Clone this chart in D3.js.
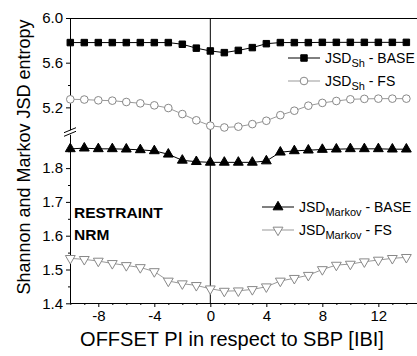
<!DOCTYPE html>
<html>
<head>
<meta charset="utf-8">
<script src="https://cdn.jsdelivr.net/npm/d3@7"></script>
<style>
body { margin: 0; background: #fff; }
text { font-family: "Liberation Sans", Arial, sans-serif; }
</style>
</head>
<body>
<div id="chart"></div>
<script>
// data
var offsets = [-10,-9,-8,-7,-6,-5,-4,-3,-2,-1,0,1,2,3,4,5,6,7,8,9,10,11,12,13,14];
var shBase = [5.78,5.78,5.78,5.78,5.78,5.78,5.78,5.78,5.765,5.73,5.705,5.69,5.71,5.735,5.77,5.78,5.78,5.78,5.782,5.782,5.782,5.782,5.782,5.782,5.782];
var shFS = [5.272,5.27,5.263,5.26,5.248,5.236,5.218,5.194,5.14,5.084,5.036,5.02,5.027,5.05,5.08,5.13,5.17,5.215,5.24,5.257,5.272,5.276,5.278,5.278,5.278];
var mkBase = [1.857,1.859,1.857,1.857,1.856,1.854,1.851,1.841,1.823,1.819,1.817,1.817,1.817,1.817,1.821,1.847,1.851,1.853,1.855,1.856,1.857,1.857,1.857,1.856,1.856];
var mkFS = [1.533,1.530,1.525,1.518,1.512,1.506,1.494,1.466,1.458,1.453,1.443,1.436,1.437,1.441,1.449,1.466,1.474,1.483,1.500,1.513,1.516,1.523,1.528,1.533,1.536];

var xTicks = [-8,-4,0,4,8,12];
var topTicks = [5.2,5.6,6.0];
var topMinor = [5.4,5.8];
var botTicks = [1.4,1.5,1.6,1.7,1.8];
var botMinor = [1.45,1.55,1.65,1.75,1.85];

var WIDTH = 417, HEIGHT = 356;
var L = 70, R = 417, T = 18, B = 303;

var xScale = d3.scaleLinear().domain([-10, 14.76]).range([70.3, 417]);
var yTop = d3.scaleLinear().domain([5.0, 6.0]).range([129.7, 18]);
var yBot = d3.scaleLinear().domain([1.4, 1.9]).range([303.3, 134.3]);

var svg = d3.select("#chart").append("svg")
	.attr("width", WIDTH)
	.attr("height", HEIGHT);

// frame lines
svg.append("line").attr("x1", L).attr("x2", R).attr("y1", T + 0.5).attr("y2", T + 0.5)
	.attr("stroke", "#000");
svg.append("line").attr("x1", xScale(0)).attr("x2", xScale(0)).attr("y1", T).attr("y2", B)
	.attr("stroke", "#000");

// x axis
svg.append("g")
	.attr("transform", "translate(0," + B + ")")
	.style("font", "15px 'Liberation Sans', Arial")
	.call(d3.axisBottom(xScale).tickValues(xTicks).tickSize(4).tickPadding(3).tickSizeOuter(0)
		.tickFormat(function(d) {return String(d);}));
svg.append("g")
	.attr("transform", "translate(0," + B + ")")
	.call(d3.axisBottom(xScale).tickValues(offsets.filter(function(d) {return xTicks.indexOf(d) < 0;})).tickSize(2).tickFormat("").tickSizeOuter(0))
	.select(".domain").remove();

// y axes (broken)
svg.append("g")
	.attr("transform", "translate(" + L + ",0)")
	.style("font", "15px 'Liberation Sans', Arial")
	.call(d3.axisLeft(yTop).tickValues(topTicks).tickFormat(d3.format(".1f")).tickSize(4).tickPadding(3).tickSizeOuter(0));
svg.append("g")
	.attr("transform", "translate(" + L + ",0)")
	.call(d3.axisLeft(yTop).tickValues(topMinor).tickFormat("").tickSize(2).tickSizeOuter(0))
	.select(".domain").remove();

svg.append("g")
	.attr("transform", "translate(" + L + ",0)")
	.style("font", "15px 'Liberation Sans', Arial")
	.call(d3.axisLeft(yBot).tickValues(botTicks).tickFormat(d3.format(".1f")).tickSize(4).tickPadding(3).tickSizeOuter(0));
svg.append("g")
	.attr("transform", "translate(" + L + ",0)")
	.call(d3.axisLeft(yBot).tickValues(botMinor).tickFormat("").tickSize(2).tickSizeOuter(0))
	.select(".domain").remove();

// break marks
[yTop.range()[0] + 0.5, yBot.range()[1] - 0.5].forEach(function(y) {
	svg.append("line")
		.attr("x1", L - 6).attr("x2", L + 6)
		.attr("y1", y + 2.5).attr("y2", y - 2.5)
		.attr("stroke", "#000").attr("stroke-width", 1);
});

// series
var series = [
	{values: shBase, y: yTop, sym: d3.symbolSquare, size: 42, fill: "#000", stroke: "#000", line: "#000", rot: 0},
	{values: shFS, y: yTop, sym: d3.symbolCircle, size: 46, fill: "#fff", stroke: "#888", line: "#999", rot: 0},
	{values: mkBase, y: yBot, sym: d3.symbolTriangle, size: 42, fill: "#000", stroke: "#000", line: "#000", rot: 0},
	{values: mkFS, y: yBot, sym: d3.symbolTriangle, size: 42, fill: "#fff", stroke: "#888", line: "#999", rot: 180}
];

series.forEach(function(s) {
	var data = offsets.map(function(o, i) {return {x: o, v: s.values[i]};});
	var lineGen = d3.line()
		.x(function(d) {return xScale(d.x);})
		.y(function(d) {return s.y(d.v);});
	svg.append("path")
		.datum(data)
		.attr("d", lineGen)
		.attr("fill", "none")
		.attr("stroke", s.line)
		.attr("stroke-width", 1);
	svg.selectAll(null)
		.data(data)
		.enter().append("path")
		.attr("d", d3.symbol().type(s.sym).size(s.size))
		.attr("transform", function(d) {return "translate(" + xScale(d.x) + "," + s.y(d.v) + ") rotate(" + s.rot + ")";})
		.attr("fill", s.fill)
		.attr("stroke", s.stroke)
		.attr("stroke-width", 1);
});

// legends
function legendRow(x0, y, s, name, suffix) {
	svg.append("line").attr("x1", x0).attr("x2", x0 + 32).attr("y1", y).attr("y2", y)
		.attr("stroke", s.line).attr("stroke-width", 1);
	svg.append("path")
		.attr("d", d3.symbol().type(s.sym).size(s.size))
		.attr("transform", "translate(" + (x0 + 16) + "," + y + ") rotate(" + s.rot + ")")
		.attr("fill", s.fill).attr("stroke", s.stroke);
	var t = svg.append("text")
		.attr("x", x0 + 37).attr("y", y + 5)
		.style("font-size", "14px");
	t.append("tspan").text("JSD");
	t.append("tspan").attr("dy", 4).style("font-size", "11px").text(name);
	t.append("tspan").attr("dy", -4).text(" - " + suffix);
}
legendRow(288, 58, series[0], "Sh", "BASE");
legendRow(288, 81, series[1], "Sh", "FS");
legendRow(262, 207, series[2], "Markov", "BASE");
legendRow(262, 230, series[3], "Markov", "FS");

// annotation
svg.append("text").attr("x", 74).attr("y", 218)
	.style("font-size", "15.5px").style("font-weight", "bold").text("RESTRAINT");
svg.append("text").attr("x", 74).attr("y", 240)
	.style("font-size", "15.5px").style("font-weight", "bold").text("NRM");

// axis titles
svg.append("text")
	.attr("transform", "translate(30,157) rotate(-90)")
	.style("text-anchor", "middle")
	.style("font-size", "18px")
	.text("Shannon and Markov JSD entropy");
svg.append("text")
	.attr("x", 232).attr("y", 346)
	.style("text-anchor", "middle")
	.style("font-size", "20px")
	.text("OFFSET PI in respect to SBP [IBI]");
</script>
</body>
</html>
